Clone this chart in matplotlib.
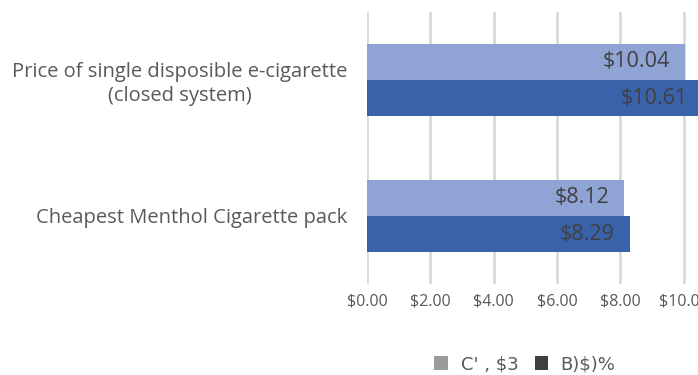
import matplotlib.pyplot as plt
from matplotlib.patches import Patch

categories = ["Cheapest Menthol Cigarette pack",
              "Price of single disposible e-cigarette\n(closed system)"]
series_names = ["C' , $3", "B)$)%"]
series_a = [8.12, 10.04]
series_b = [8.29, 10.61]
tick_values = [0, 2, 4, 6, 8, 10, 12]
tick_labels = ["$0.00", "$2.00", "$4.00", "$6.00", "$8.00", "$10.00", "$12.00"]

color_a = "#8FA3D4"
color_b = "#3A62AB"
legend_colors = ["#9B9B9B", "#3F3F3F"]
text_gray = "#595959"

W, H = 698, 375
fig = plt.figure(figsize=(W / 100, H / 100), dpi=100)
x0, x1 = 367, 747
y_top, y_bot = 12, 284
ax = fig.add_axes([x0 / W, 1 - y_bot / H, (x1 - x0) / W, (y_bot - y_top) / H])

h = 0.265
ypos = list(range(len(categories)))
bars_a = ax.barh([y + h / 2 for y in ypos], series_a, height=h, color=color_a, zorder=2)
bars_b = ax.barh([y - h / 2 for y in ypos], series_b, height=h, color=color_b, zorder=2)

for bars, vals in ((bars_a, series_a), (bars_b, series_b)):
    for b, v in zip(bars, vals):
        ax.text(v - 0.48, b.get_y() + b.get_height() / 2, f"${v:.2f}",
                ha="right", va="center", fontsize=15.5, color="#404040",
                family="Open Sans", zorder=3)

ax.set_xlim(0, 12)
ax.set_ylim(-0.5, 1.5)
ax.set_xticks(tick_values)
ax.set_xticklabels(tick_labels, fontsize=11.5, color=text_gray, family="Open Sans")
ax.set_yticks(ypos)
ax.set_yticklabels(categories, fontsize=14.5, color=text_gray, family="Open Sans",
                   multialignment="center", linespacing=1.25)
ax.tick_params(axis="both", length=0)
ax.tick_params(axis="y", pad=14)
ax.tick_params(axis="x", pad=7)
ax.grid(axis="x", color="#D9D9D9", linewidth=2, zorder=0)
for s in ax.spines.values():
    s.set_visible(False)

handles = [Patch(facecolor=c, edgecolor="none") for c in legend_colors]
fig.legend(handles, series_names, loc="center", bbox_to_anchor=(525 / W, 1 - 364 / H),
           ncol=2, frameon=False, handlelength=0.75, handleheight=0.85,
           handletextpad=0.7, columnspacing=0.9,
           prop={"family": "DejaVu Sans", "size": 13},
           labelcolor=text_gray)

fig.savefig("out.png", dpi=100)
